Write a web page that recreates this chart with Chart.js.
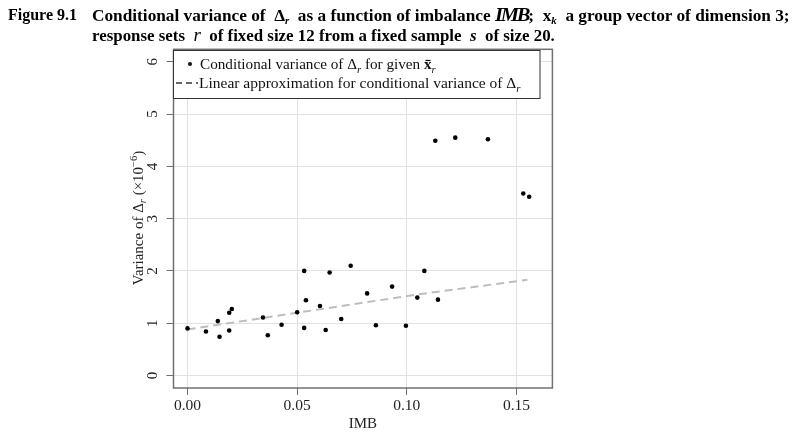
<!DOCTYPE html>
<html>
<head>
<meta charset="utf-8">
<script src="https://cdn.jsdelivr.net/npm/chart.js@4.4.1/dist/chart.umd.min.js"></script>
<style>
  html, body { margin: 0; padding: 0; background: #fff; }
  #wrap { position: relative; width: 797px; height: 438px; overflow: hidden; }
  canvas { position: absolute; left: 0; top: 0; }
  .ttl { position: absolute; font-family: "Liberation Serif", serif; font-weight: bold; font-size: 16px;
         white-space: nowrap; transform-origin: 0 0; color: #000; line-height: 20px; }
  .ttl sub { font-size: 10px; font-style: italic; vertical-align: -3px; }
  .it { font-style: italic; }
</style>
</head>
<body>
<div id="wrap">
  <canvas id="chart" width="797" height="438"></canvas>
  <div class="ttl" style="left:8px; top:5px;">Figure 9.1</div>
  <div class="ttl" id="t1" style="left:92px; top:5px;">Conditional variance of &nbsp;Δ<sub>r</sub>&nbsp; as a function of imbalance <span class="it" style="font-size:19px; letter-spacing:-2px;">IMB</span>; &nbsp;x<sub>k</sub>&nbsp; a group vector of dimension 3;</div>
  <div class="ttl" id="t2" style="left:92px; top:25px;">response sets &nbsp;<span class="it" style="font-size:18px; font-weight:normal;">r</span>&nbsp; of fixed size 12 from a fixed sample &nbsp;<span class="it">s</span>&nbsp; of size 20.</div>
</div>
<script>
// values
const imb = [0, 0.0084, 0.0138, 0.0146, 0.019, 0.0202, 0.019, 0.0344, 0.0366, 0.0429,
  0.05, 0.0532, 0.054, 0.0532, 0.0604, 0.0648, 0.063, 0.0701, 0.0744, 0.0819,
  0.0859, 0.0933, 0.0996, 0.1048, 0.108, 0.1142, 0.113, 0.1221, 0.137, 0.1531, 0.1558]
const variance = [0.90, 0.84, 1.04, 0.74, 1.20, 1.27, 0.86, 1.11, 0.77, 0.97,
  1.21, 0.91, 1.44, 2.00, 1.33, 1.97, 0.87, 1.08, 2.10, 1.57,
  0.96, 1.70, 0.95, 1.49, 2.00, 1.45, 4.49, 4.55, 4.52, 3.48, 3.42]
const approxX = [0, 0.05, 0.105, 0.155]
const approxY = [0.88, 1.20, 1.55, 1.83]
const xTicks = [0, 0.05, 0.10, 0.15]
const xTickLabels = ['0.00', '0.05', '0.10', '0.15']
const yTicks = [0, 1, 2, 3, 4, 5, 6]
const yTickLabels = ['0', '1', '2', '3', '4', '5', '6']

// squeeze the title lines to the width they take in the figure
function fitWidth(id, w) {
  const el = document.getElementById(id)
  el.style.transform = 'scaleX(' + (w / el.scrollWidth) + ')'
}
fitWidth('t1', 698)
fitWidth('t2', 463)

const serif = '"Liberation Serif", "Times New Roman", serif'

// draw pieces of text with sub/bold parts left to right
function richText(ctx, parts, x, y, size) {
  for (const p of parts) {
    const sz = p.sub ? size * 0.7 : size
    ctx.font = (p.italic ? 'italic ' : '') + (p.bold ? 'bold ' : '') + sz + 'px ' + serif
    const dy = p.sub ? size * 0.25 : 0
    ctx.fillText(p.t, x, y + dy)
    if (p.bar) {
      const w = ctx.measureText(p.t).width
      ctx.fillRect(x + 1.5, y - size * 0.6, w - 2.5, 1.2)
    }
    x += ctx.measureText(p.t).width
  }
  return x
}
function richWidth(ctx, parts, size) {
  let w = 0
  for (const p of parts) {
    const sz = p.sub ? size * 0.7 : size
    ctx.font = (p.italic ? 'italic ' : '') + (p.bold ? 'bold ' : '') + sz + 'px ' + serif
    w += ctx.measureText(p.t).width
  }
  return w
}

const extras = {
  id: 'extras',
  afterDatasetsDraw(chart) {
    const ctx = chart.ctx
    const a = chart.chartArea
    const ys = chart.scales.y
    ctx.save()
    // frame
    ctx.strokeStyle = '#707070'
    ctx.lineWidth = 1.5
    ctx.strokeRect(a.left, a.top, a.right - a.left, a.bottom - a.top)

    // y tick labels, rotated like the original
    ctx.fillStyle = '#222'
    ctx.font = '15px ' + serif
    ctx.textAlign = 'center'
    ctx.textBaseline = 'middle'
    yTicks.forEach((v, i) => {
      const py = ys.getPixelForValue(v)
      ctx.save()
      ctx.translate(153, py)
      ctx.rotate(-Math.PI / 2)
      ctx.fillText(yTickLabels[i], 0, 0)
      ctx.restore()
    })

    // y axis title
    const yTitle = [
      { t: 'Variance of Δ' }, { t: 'r', sub: true, italic: true }, { t: ' (×10' },
      { t: '−6', sub: true, up: true }, { t: ')' }
    ]
    ctx.save()
    ctx.translate(138, 218)
    ctx.rotate(-Math.PI / 2)
    ctx.textAlign = 'left'
    ctx.textBaseline = 'alphabetic'
    let x = -richWidth(ctx, yTitle, 15) / 2
    for (const p of yTitle) {
      const sz = p.sub ? 10.5 : 15
      ctx.font = (p.italic ? 'italic ' : '') + sz + 'px ' + serif
      const dy = p.up ? -6 : (p.sub ? 3 : 0)
      ctx.fillText(p.t, x, 5 + dy)
      x += ctx.measureText(p.t).width
    }
    ctx.restore()

    // legend box
    const lx = a.left, ly = 50.5, lw = 366.5, lh = 48
    ctx.fillStyle = '#fff'
    ctx.fillRect(lx, ly, lw, lh)
    ctx.strokeStyle = '#333'
    ctx.lineWidth = 1
    ctx.strokeRect(lx, ly, lw, lh)
    ctx.fillStyle = '#111'
    ctx.textAlign = 'left'
    ctx.textBaseline = 'alphabetic'
    ctx.beginPath()
    ctx.arc(190, 64, 2, 0, Math.PI * 2)
    ctx.fill()
    richText(ctx, [
      { t: 'Conditional variance of Δ' }, { t: 'r', sub: true, italic: true },
      { t: ' for given ' }, { t: 'x', bold: true, bar: true }, { t: 'r', sub: true, italic: true }
    ], 200, 69, 15.2)
    ctx.strokeStyle = '#333'
    ctx.lineWidth = 1.5
    ctx.setLineDash([6, 4])
    ctx.beginPath()
    ctx.moveTo(176, 83)
    ctx.lineTo(198, 83)
    ctx.stroke()
    ctx.setLineDash([])
    richText(ctx, [
      { t: 'Linear approximation for conditional variance of Δ' }, { t: 'r', sub: true, italic: true }
    ], 199, 88, 15.5)
    ctx.restore()
  }
}

new Chart(document.getElementById('chart'), {
  type: 'scatter',
  data: {
    datasets: [
      {
        label: 'Linear approximation for conditional variance',
        data: approxX.map((v, i) => ({ x: v, y: approxY[i] })),
        showLine: true,
        borderColor: '#bdbdbd',
        borderWidth: 2,
        borderDash: [8, 5],
        pointRadius: 0,
        order: 2
      },
      {
        label: 'Conditional variance',
        data: imb.map((v, i) => ({ x: v, y: variance[i] })),
        backgroundColor: '#000',
        borderWidth: 0,
        pointRadius: 2.3,
        order: 1
      }
    ]
  },
  options: {
    responsive: false,
    animation: false,
    layout: { padding: { left: 0, right: 244.6, top: 49.3, bottom: 0 } },
    plugins: { legend: { display: false }, tooltip: { enabled: false } },
    scales: {
      x: {
        type: 'linear',
        min: -0.0064,
        max: 0.1664,
        afterFit: (s) => { s.height = 50 },
        afterBuildTicks: (s) => { s.ticks = xTicks.map(v => ({ value: v })) },
        border: { display: false },
        grid: {
          color: '#e2e2e2',
          borderDash: [1, 3],
          tickColor: '#707070',
          tickBorderDash: [],
          tickLength: 7,
          lineWidth: 1
        },
        ticks: {
          color: '#222',
          font: { family: serif, size: 15.5 },
          padding: 2,
          maxRotation: 0,
          callback: (v) => xTickLabels[xTicks.indexOf(v)]
        },
        title: {
          display: true,
          text: 'IMB',
          color: '#222',
          font: { family: serif, size: 15 },
          padding: { top: 0, bottom: 5 }
        }
      },
      y: {
        type: 'linear',
        min: -0.24,
        max: 6.24,
        afterFit: (s) => { s.width = 173.5 },
        afterBuildTicks: (s) => { s.ticks = yTicks.map(v => ({ value: v })) },
        border: { display: false },
        grid: {
          color: '#e2e2e2',
          borderDash: [1, 3],
          tickColor: '#707070',
          tickBorderDash: [],
          tickLength: 7,
          lineWidth: 1
        },
        ticks: { display: false }
      }
    }
  },
  plugins: [extras]
})
</script>
</body>
</html>
